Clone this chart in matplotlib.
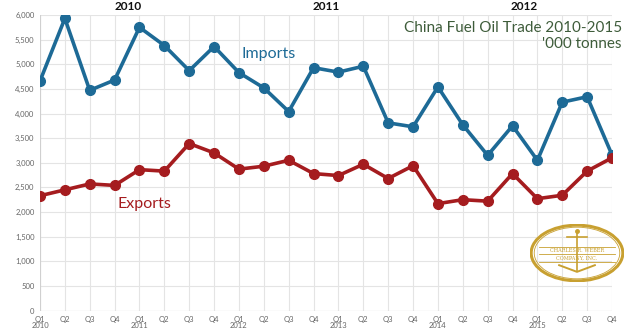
import numpy as np
import matplotlib
matplotlib.use('Agg')
import matplotlib.pyplot as plt
from matplotlib.patches import Ellipse

quarters = ['Q1', 'Q2', 'Q3', 'Q4'] * 6
years = ['2010', '2011', '2012', '2013', '2014', '2015']
imports = [4660, 5930, 4470, 4680, 5750, 5380, 4870, 5360,
           4830, 4520, 4040, 4930, 4840, 4960, 3810, 3730,
           4540, 3770, 3150, 3750, 3050, 4230, 4340, 3160]
exports = [2330, 2450, 2570, 2540, 2860, 2830, 3390, 3200,
           2870, 2930, 3050, 2780, 2740, 2970, 2680, 2940,
           2170, 2250, 2220, 2780, 2270, 2340, 2830, 3100]
yticks = list(range(0, 6001, 500))
header_years = ['2010', '2011', '2012']

blue = '#1d6a96'
red = '#a51c1f'
gray = '#666666'

plt.rcParams['font.family'] = ['Lato', 'DejaVu Sans']

fig = plt.figure(figsize=(6.28, 3.33), dpi=100)
ax = fig.add_axes([40/628, 1-310.5/333, 572/628, 295.5/333])

x = np.arange(len(imports))
ax.plot(x, imports, color=blue, lw=2.6, marker='o', ms=7, zorder=3)
ax.plot(x, exports, color=red, lw=2.6, marker='o', ms=7, zorder=3)

ax.set_xlim(0, 23)
ax.set_ylim(0, 6000)
ax.set_yticks(yticks)
ax.set_yticklabels(['{:,}'.format(v) for v in yticks], fontsize=5.5, color=gray)
labels = []
for i, q in enumerate(quarters):
    labels.append(q + '\n' + years[i // 4] if q == 'Q1' else q + '\n')
ax.set_xticks(x)
ax.set_xticklabels(labels, fontsize=5.5, color=gray, linespacing=0.9)
ax.tick_params(length=0, pad=4)
ax.grid(True, color='#e4e4e4', lw=0.8)
for s in ax.spines.values():
    s.set_visible(False)
ax.axvline(0, color='#d0d0d0', lw=0.8)
ax.axhline(0, color='#d0d0d0', lw=0.8)

ax.text(8.1, 5200, 'Imports', color=blue, fontsize=11.5, va='center')
ax.text(3.1, 2160, 'Exports', color=red, fontsize=11.5, va='center')
fig.text(622/628, 1-28/333, 'China Fuel Oil Trade 2010-2015', color='#3e5c3a',
         fontsize=11, ha='right', va='center')
fig.text(622/628, 1-44/333, "'000 tonnes", color='#3e5c3a',
         fontsize=11, ha='right', va='center')

# header years from the slide above (shown cropped in the source)
for xc, yr in zip([128, 326, 524], header_years):
    fig.text(xc/628, 1-1/333, yr, fontsize=8.5, fontweight='bold',
             ha='center', va='top', color='#111111')

# logo
gold = '#c8a030'
lx, ly = 577/628, 1-253/333
ex = fig.add_axes([lx-47/628, ly-29/333, 94/628, 58/333])
ex.set_xlim(-1, 1)
ex.set_ylim(-1, 1)
ex.axis('off')
ex.add_patch(Ellipse((0, 0), 1.95, 1.92, fill=False, ec=gold, lw=2.2))
ex.add_patch(Ellipse((0, 0), 1.82, 1.78, fill=False, ec=gold, lw=0.6))
ex.plot([0, 0], [0.72, -0.62], color=gold, lw=1.2)
ex.plot([-0.22, 0.22], [0.55, 0.55], color=gold, lw=1.2)
ex.plot([-0.38, 0, 0.38], [-0.42, -0.65, -0.42], color=gold, lw=1.4)
ex.plot(0, 0.75, 'o', color=gold, ms=2.5)
ex.plot([-0.8, 0.8], [0.2, 0.2], color=gold, lw=0.6)
ex.plot([-0.8, 0.8], [-0.05, -0.05], color=gold, lw=0.6)
ex.plot([-0.8, 0.8], [-0.3, -0.3], color=gold, lw=0.6)
ex.text(0, 0.075, 'CHARLES R. WEBER', fontsize=3.6, color=gold, ha='center', va='center', family='DejaVu Serif')
ex.text(0, -0.175, 'COMPANY, INC.', fontsize=3.6, color=gold, ha='center', va='center', family='DejaVu Serif')

fig.savefig('out.png', dpi=100)
